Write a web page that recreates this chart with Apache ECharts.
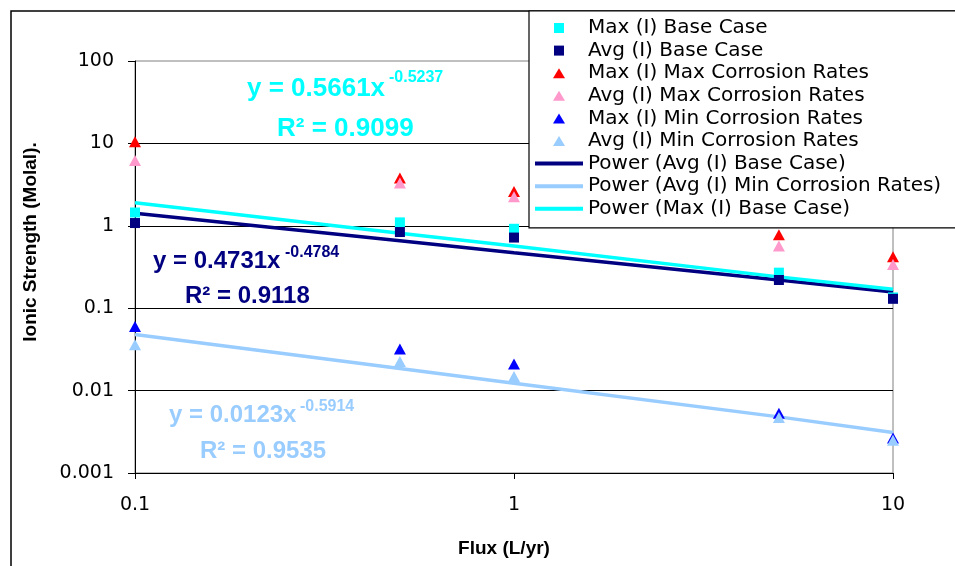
<!DOCTYPE html>
<html>
<head>
  <meta charset="UTF-8">
  <title>Ionic Strength vs Flux</title>
  <script src="https://cdn.jsdelivr.net/npm/echarts@6/dist/echarts.min.js"></script>
  <style>
    html, body { margin: 0; padding: 0; background: #fff; }
    #main { width: 955px; height: 566px; }
  </style>
</head>
<body>
  <div id="main"></div>
  <script type="text/javascript">
    // values
    var flux = [0.1, 0.5, 1, 5, 10];
    var maxBase = [1.45, 1.1, 0.92, 0.27, 0.135];
    var avgBase = [1.08, 0.84, 0.72, 0.22, 0.13];
    var maxMaxCorr = [10.5, 3.8, 2.6, 0.78, 0.42];
    var avgMaxCorr = [6.2, 3.3, 2.25, 0.57, 0.34];
    var maxMinCorr = [0.06, 0.032, 0.021, 0.0053, 0.00265];
    var avgMinCorr = [0.036, 0.0226, 0.0148, 0.0047, 0.0025];
    // power trendlines
    var fitAvgBase = [1.42, 0.66, 0.47, 0.22, 0.157];
    var fitAvgMin = [0.048, 0.0185, 0.0123, 0.0048, 0.0031];
    var fitMaxBase = [1.9, 0.81, 0.57, 0.24, 0.17];

    var names = [
      'Max (I) Base Case',
      'Avg (I) Base Case',
      'Max (I) Max Corrosion Rates',
      'Avg (I) Max Corrosion Rates',
      'Max (I) Min Corrosion Rates',
      'Avg (I) Min Corrosion Rates',
      'Power (Avg (I) Base Case)',
      'Power (Avg (I) Min Corrosion Rates)',
      'Power (Max (I) Base Case)'
    ];

    var squareIcon = 'path://M0,0h10v10h-10z';
    var triIcon = 'path://M6,0L12,10L0,10z';
    var lineIcon = 'path://M0,0h48v4h-48z';
    var icons = [squareIcon, squareIcon, triIcon, triIcon, triIcon, triIcon, lineIcon, lineIcon, lineIcon];

    function pairs(ys) {
      return flux.map(function (x, i) { return [x, ys[i]]; });
    }

    function dots(name, ys, color, symbol) {
      return {
        name: name,
        type: 'scatter',
        data: pairs(ys),
        symbol: symbol,
        symbolSize: symbol === 'rect' ? 10 : [12, 11],
        itemStyle: { color: color, opacity: 1 },
        z: 3
      };
    }

    function fit(name, ys, color) {
      return {
        name: name,
        type: 'line',
        data: pairs(ys),
        symbol: 'none',
        lineStyle: { color: color, width: 3.5 },
        itemStyle: { color: color, opacity: 1 },
        z: 2
      };
    }

    var bold = 'Liberation Sans';

    function eq(x, y, text, size, color) {
      return {
        type: 'text',
        x: x,
        y: y,
        style: {
          text: text,
          fontFamily: bold,
          fontWeight: 'bold',
          fontSize: size,
          fill: color,
          align: 'left',
          verticalAlign: 'middle'
        }
      };
    }

    var myChart = echarts.init(document.getElementById('main'));

    var option = {
      backgroundColor: '#fff',
      animation: false,
      grid: {
        left: 135,
        right: 62,
        top: 61,
        bottom: 93,
        show: true,
        borderColor: '#808080',
        borderWidth: 1,
        outerBoundsMode: 'none'
      },
      legend: {
        data: names.map(function (n, i) { return { name: n, icon: icons[i] }; }),
        orient: 'vertical',
        align: 'left',
        left: 529,
        top: 11,
        padding: [7, 40, 9, 6],
        itemWidth: 48,
        itemHeight: 10,
        itemGap: 2.6,
        symbolKeepAspect: true,
        backgroundColor: '#fff',
        borderColor: '#000',
        borderWidth: 1.2,
        borderRadius: 0,
        textStyle: {
          fontFamily: 'DejaVu Sans',
          fontSize: 20,
          lineHeight: 20,
          color: '#000'
        }
      },
      xAxis: {
        type: 'log',
        logBase: 10,
        min: 0.1,
        max: 10,
        name: 'Flux (L/yr)',
        nameLocation: 'middle',
        nameGap: 66,
        nameTextStyle: {
          fontFamily: bold,
          fontWeight: 'bold',
          fontSize: 19,
          color: '#000',
          padding: [0, 20, 0, 0]
        },
        axisLine: { lineStyle: { color: '#000', width: 1 } },
        axisTick: { show: true, length: 6, lineStyle: { color: '#000' } },
        axisLabel: {
          margin: 23,
          fontFamily: 'DejaVu Sans',
          fontSize: 19,
          color: '#000',
          formatter: function (v) { return String(parseFloat(v.toPrecision(3))); }
        },
        splitLine: { show: false },
        minorTick: { show: false }
      },
      yAxis: {
        type: 'log',
        logBase: 10,
        min: 0.001,
        max: 100,
        name: 'Ionic Strength (Molal).',
        nameLocation: 'middle',
        nameGap: 95,
        nameTextStyle: {
          fontFamily: bold,
          fontWeight: 'bold',
          fontSize: 19,
          color: '#000',
          padding: [0, 0, 0, 50]
        },
        axisLine: { show: true, lineStyle: { color: '#000', width: 1 } },
        axisTick: { show: true, length: 7, lineStyle: { color: '#000' } },
        axisLabel: {
          margin: 21,
          fontFamily: 'DejaVu Sans',
          fontSize: 19,
          color: '#000',
          formatter: function (v) { return String(parseFloat(v.toPrecision(3))); }
        },
        splitLine: {
          show: true,
          showMinLine: false,
          showMaxLine: false,
          lineStyle: { color: '#000', width: 1 }
        },
        minorTick: { show: false }
      },
      graphic: [
        {
          type: 'rect',
          shape: { x: 11, y: 11, width: 1000, height: 1000 },
          style: { fill: 'none', stroke: '#000', lineWidth: 1.5 },
          z: -1
        },
        eq(247, 89, 'y = 0.5661x', 26, '#00FFFF'),
        eq(389, 78, '-0.5237', 16, '#00FFFF'),
        eq(277, 129, 'R² = 0.9099', 26, '#00FFFF'),
        eq(153, 261, 'y = 0.4731x', 24, '#000080'),
        eq(285, 253, '-0.4784', 16, '#000080'),
        eq(185, 296, 'R² = 0.9118', 24, '#000080'),
        eq(169, 415, 'y = 0.0123x', 24, '#99CCFF'),
        eq(300, 407, '-0.5914', 16, '#99CCFF'),
        eq(200, 451, 'R² = 0.9535', 24, '#99CCFF')
      ],
      series: [
        dots(names[0], maxBase, '#00FFFF', 'rect'),
        dots(names[1], avgBase, '#000080', 'rect'),
        dots(names[2], maxMaxCorr, '#FF0000', 'triangle'),
        dots(names[3], avgMaxCorr, '#FF99CC', 'triangle'),
        dots(names[4], maxMinCorr, '#0000FF', 'triangle'),
        dots(names[5], avgMinCorr, '#99CCFF', 'triangle'),
        fit(names[6], fitAvgBase, '#000080'),
        fit(names[7], fitAvgMin, '#99CCFF'),
        fit(names[8], fitMaxBase, '#00FFFF')
      ]
    };

    myChart.setOption(option);
  </script>
</body>
</html>
